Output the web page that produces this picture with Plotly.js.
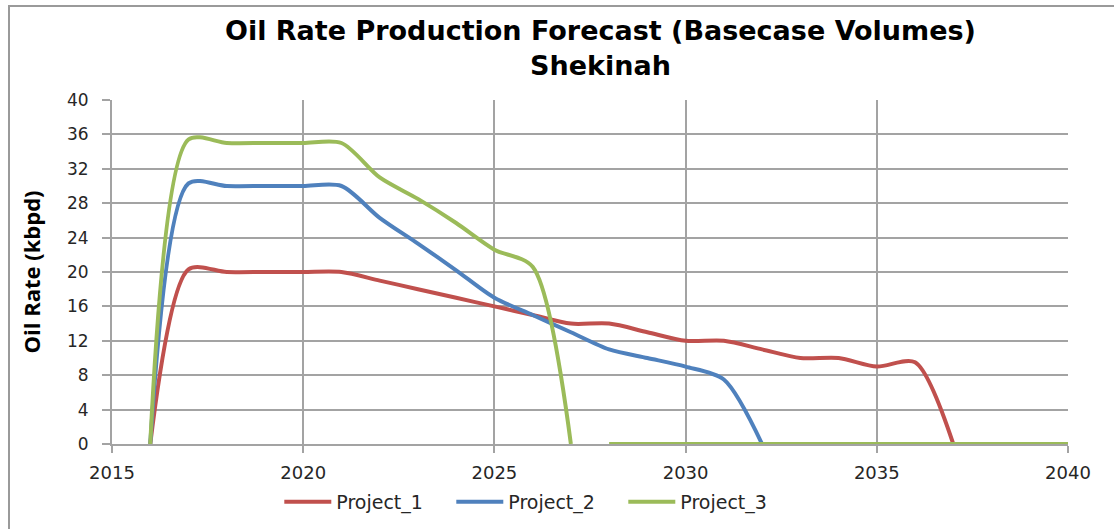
<!DOCTYPE html>
<html>
<head>
<meta charset="utf-8">
<script src="https://cdn.plot.ly/plotly-3.0.1.min.js"></script>
<style>
  html, body { margin: 0; padding: 0; background: #fff; }
  #frame { position: absolute; left: 8px; top: 5px; width: 1200px; height: 600px;
           border-left: 2px solid #9a9a9a; border-top: 2px solid #9a9a9a; }
  #chart { position: absolute; left: 0; top: 0; width: 1114px; height: 529px; }
</style>
</head>
<body>
<div id="frame"></div>
<div id="chart"></div>
<script>
// Years and series values (kbpd)
const years = [2016, 2017, 2018, 2019, 2020, 2021, 2022, 2023, 2024, 2025, 2026,
               2027, 2028, 2029, 2030, 2031, 2032, 2033, 2034, 2035, 2036, 2037,
               2038, 2039, 2040];
const project1 = [0, 20.3, 20, 20, 20, 20, 19, 18, 17, 16, 15,
                  14, 14, 13, 12, 12, 11, 10, 10, 9, 9.5, 0,
                  null, null, null];
const project2 = [0, 30.3, 30, 30, 30, 30, 26.3, 23.3, 20.2, 17, 15,
                  13, 11, 10, 9, 7.5, 0, null, null, null, null, null,
                  null, null, null];
const project3 = [0, 35.4, 35, 35, 35, 35, 31, 28.5, 25.7, 22.6, 20.6,
                  0, 0, 0, 0, 0, 0, 0, 0, 0, 0, 0,
                  0, 0, 0];
const seriesNames = ['Project_1', 'Project_2', 'Project_3'];
const colors = ['#C0504D', '#4F81BD', '#9BBB59'];
const xTicks = [2015, 2020, 2025, 2030, 2035, 2040];
const yTicks = [0, 4, 8, 12, 16, 20, 24, 28, 32, 36, 40];

// Project_3 is drawn as an active segment and a zero tail (the chart shows a gap between them)
const p3EndIdx = years.indexOf(2027);
const p3TailIdx = years.indexOf(2028);

function lineTrace(x, y, name, color, showlegend) {
  return {
    x: x, y: y, name: name, type: 'scatter', mode: 'lines',
    line: { color: color, width: 4, shape: 'spline', smoothing: 0.8 },
    connectgaps: false, showlegend: showlegend, hoverinfo: 'x+y+name'
  };
}

const traces = [
  lineTrace(years, project1, seriesNames[0], colors[0], true),
  lineTrace(years, project2, seriesNames[1], colors[1], true),
  lineTrace(years.slice(0, p3EndIdx + 1), project3.slice(0, p3EndIdx + 1), seriesNames[2], colors[2], true),
  lineTrace(years.slice(p3TailIdx), project3.slice(p3TailIdx), seriesNames[2], colors[2], false)
];

const tickFont = { family: 'DejaVu Sans, Verdana, sans-serif', size: 17, color: '#262626' };
const gridColor = '#a3a3a3';

const layout = {
  width: 1114, height: 529,
  margin: { l: 112, r: 46, t: 100, b: 85, autoexpand: false },
  paper_bgcolor: 'rgba(0,0,0,0)',
  plot_bgcolor: '#ffffff',
  title: {
    text: '<b>Oil Rate Production Forecast (Basecase Volumes)<br>Shekinah</b>',
    font: { family: 'DejaVu Sans, Verdana, sans-serif', size: 27, color: '#000' },
    xref: 'container', x: 0.539, xanchor: 'center',
    yref: 'container', y: 0.925, yanchor: 'top'
  },
  xaxis: {
    range: [2015, 2040], tickvals: xTicks, ticktext: xTicks.map(String),
    showgrid: true, gridcolor: gridColor, gridwidth: 2,
    showline: true, linecolor: gridColor, linewidth: 2,
    ticks: 'outside', ticklen: 7, tickcolor: gridColor, tickwidth: 2,
    ticklabelstandoff: 4,
    tickfont: Object.assign({}, tickFont, { size: 18 }),
    zeroline: false, fixedrange: true
  },
  yaxis: {
    range: [0, 40], tickvals: yTicks, ticktext: yTicks.map(String),
    showgrid: true, gridcolor: gridColor, gridwidth: 2,
    showline: true, linecolor: gridColor, linewidth: 2,
    ticks: 'outside', ticklen: 8, tickcolor: gridColor, tickwidth: 2,
    ticklabelstandoff: 10,
    tickfont: tickFont,
    title: { text: '<b>Oil Rate (kbpd)</b>', font: { family: 'Open Sans, Liberation Sans, sans-serif', size: 22, color: '#000' }, standoff: 20 },
    zeroline: false, fixedrange: true
  },
  legend: {
    orientation: 'h', x: 0.175, xanchor: 'left', y: -0.113, yanchor: 'top',
    font: { family: 'DejaVu Sans, Verdana, sans-serif', size: 19, color: '#262626' },
    itemwidth: 47, tracegroupgap: 0, entrywidth: 110, entrywidthmode: 'pixels'
  },
  showlegend: true
};

Plotly.newPlot('chart', traces, layout, { displayModeBar: false, staticPlot: true });
</script>
</body>
</html>
